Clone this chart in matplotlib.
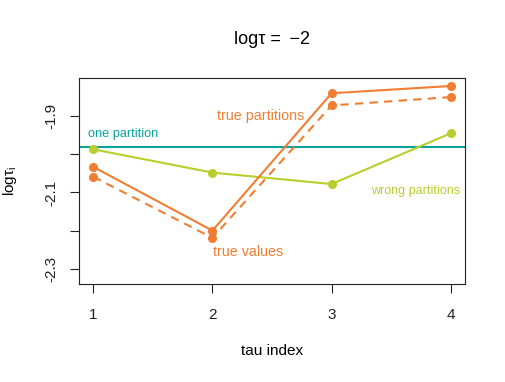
import matplotlib
matplotlib.use("Agg")
import matplotlib.pyplot as plt

plt.rcParams['font.family'] = ['Liberation Sans', 'DejaVu Sans']
plt.rcParams['mathtext.fontset'] = 'custom'
plt.rcParams['mathtext.rm'] = 'Liberation Sans'
plt.rcParams['mathtext.it'] = 'Liberation Sans'

# Werte
tau_index = [1, 2, 3, 4]
true_partitions = [-2.033, -2.200, -1.840, -1.821]
true_values = [-2.059, -2.219, -1.872, -1.850]
wrong_partitions = [-1.987, -2.048, -2.078, -1.945]
one_partition = -1.980

orange = '#F07E32'
green = '#B9CE2C'
teal = '#0AA29C'

fig = plt.figure(figsize=(5.06, 3.82), dpi=100)
ax = fig.add_axes([79/506, 1 - 284/382, (465-79)/506, (284-78)/382])

ax.axhline(one_partition, color=teal, lw=1.5, zorder=2)
ax.plot(tau_index, wrong_partitions, '-o', color=green, lw=1.5, ms=5.5, zorder=3)
ax.plot(tau_index, true_partitions, '-o', color=orange, lw=1.5, ms=5.5, zorder=3)
ax.plot(tau_index, true_values, '--o', color=orange, lw=1.5, ms=5.5,
        dashes=(4, 3), zorder=3)

ax.text(1.249, -1.947, 'one partition', color=teal, fontsize=9.2,
        ha='center', va='center')
ax.text(2.401, -1.900, 'true partitions', color=orange, fontsize=10.3,
        ha='center', va='center')
ax.text(2.297, -2.255, 'true values', color=orange, fontsize=10.3,
        ha='center', va='center')
ax.text(3.701, -2.096, 'wrong partitions', color=green, fontsize=9,
        ha='center', va='center')

ax.set_xlim(0.88, 4.12)
ax.set_ylim(-2.34, -1.80)
ax.set_xticks(tau_index)
ax.set_xticklabels(['1', '2', '3', '4'])
ax.set_yticks([-1.9, -2.0, -2.1, -2.2, -2.3])
ax.set_yticklabels(['-1.9', '', '-2.1', '', '-2.3'], rotation=90, va='center')
ax.tick_params(direction='out', length=6.5, width=0.8, labelsize=11,
               colors='#222222')
ax.tick_params(axis='x', pad=10.5)
ax.tick_params(axis='y', pad=8)
for s in ax.spines.values():
    s.set_color('#222222')
    s.set_linewidth(0.8)

fig.text(272/506, 1 - 40/382, 'logτ = \u2009\u22122', fontsize=13,
         ha='center', va='center')
fig.text(272/506, 1 - 351/382, 'tau index', fontsize=11, ha='center', va='center')
fig.text(10/506, 1 - 181/382, r'log$\mathregular{\tau_i}$', fontsize=11,
         ha='center', va='center', rotation=90)

fig.savefig('out.png', dpi=100)
